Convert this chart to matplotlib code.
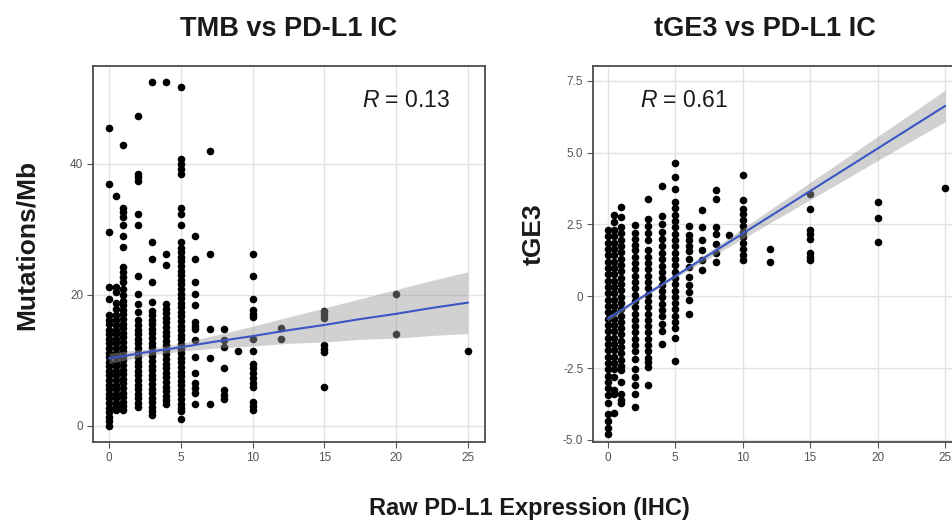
import matplotlib
matplotlib.use("Agg")
import matplotlib.pyplot as plt
import numpy as np

plt.rcParams['font.family'] = ['Liberation Sans', 'DejaVu Sans']
plt.rcParams['mathtext.fontset'] = 'custom'
plt.rcParams['mathtext.it'] = 'Liberation Sans:italic'
plt.rcParams['mathtext.rm'] = 'Liberation Sans'

# ---------------- data: TMB (Mutations/Mb) by raw PD-L1 IC level ----------------
tmb_levels = [0, 0.5, 1, 2, 3, 4, 5, 6, 7, 8, 9, 10, 12, 15, 20, 25]
tmb_x0 = [45.5, 36.9, 29.6, 21.2, 19.4, 16.9, 16.2, 15.5, 14.7, 14.0, 13.3, 12.6, 11.9, 11.2, 10.5,
          9.8, 9.1, 8.4, 7.7, 7.0, 6.3, 5.6, 4.9, 4.2, 3.5, 2.8, 2.1, 1.4, 0.8, 0.0]
tmb_x05 = [35.0, 21.2, 20.4, 18.7, 17.9, 16.9, 16.1, 15.4, 14.7, 14.0, 13.3, 12.6, 11.9, 11.2, 10.5,
           9.8, 9.1, 8.4, 7.7, 7.0, 6.3, 5.6, 4.9, 4.2, 3.5, 2.9, 2.4]
tmb_x1 = [42.8, 33.3, 32.6, 31.8, 30.6, 29.0, 27.3, 24.2, 23.5, 22.7, 21.9, 20.9, 19.9, 19.1, 18.4,
          17.7, 17.0, 16.3, 15.6, 14.9, 14.2, 13.5, 12.8, 12.1, 11.4, 10.7, 10.0, 9.3, 8.6, 7.9,
          7.2, 6.5, 5.8, 5.1, 4.4, 3.7, 3.0, 2.4]
tmb_x2 = [47.3, 38.4, 37.9, 37.4, 32.4, 30.6, 22.9, 20.2, 18.6, 17.4, 16.1, 15.4, 14.7, 14.0, 13.3,
          12.6, 11.9, 11.2, 10.5, 9.8, 9.1, 8.4, 7.7, 7.0, 6.3, 5.6, 4.9, 4.2, 3.5, 2.9]
tmb_x3 = [52.5, 28.0, 25.5, 21.9, 18.9, 17.6, 16.9, 16.2, 15.5, 14.8, 14.1, 13.4, 12.7, 12.0, 11.3,
          10.6, 9.9, 9.2, 8.5, 7.8, 7.1, 6.4, 5.7, 5.0, 4.3, 3.6, 2.9, 2.3, 1.7]
tmb_x4 = [52.5, 26.2, 24.5, 18.6, 17.9, 17.2, 16.5, 15.8, 15.1, 14.4, 13.7, 13.0, 12.3, 11.6, 10.9,
          10.2, 9.5, 8.8, 8.1, 7.4, 6.7, 6.0, 5.3, 4.6, 4.0, 3.4]
tmb_x5 = [51.7, 40.7, 39.9, 39.2, 38.4, 33.3, 32.4, 30.6, 28.0, 27.2, 26.5, 25.8, 25.1, 24.4, 23.7,
          23.0, 22.3, 21.6, 20.9, 20.2, 19.5, 18.8, 18.1, 17.4, 16.7, 16.0, 15.3, 14.6, 13.9, 13.2,
          12.5, 11.8, 11.1, 10.4, 9.7, 9.0, 8.3, 7.6, 6.9, 6.2, 5.5, 4.8, 4.1, 3.4, 2.8, 2.3, 1.1]
tmb_x6 = [29.0, 25.5, 21.9, 20.2, 18.4, 15.9, 15.3, 14.8, 13.1, 10.5, 8.0, 6.5, 5.8, 5.0, 3.4]
tmb_x7 = [42.0, 26.2, 14.8, 10.4, 3.4]
tmb_x8 = [14.8, 13.1, 12.0, 8.8, 5.5, 4.7, 4.1]
tmb_x9 = [11.4]
tmb_x10 = [26.2, 22.8, 19.3, 17.7, 17.1, 16.6, 13.2, 11.4, 9.5, 8.8, 8.0, 7.3, 6.5, 6.0, 3.6, 3.0, 2.4]
tmb_x12 = [15.0, 13.2]
tmb_x15 = [17.6, 17.0, 16.4, 12.3, 11.8, 11.3, 6.0]
tmb_x20 = [20.2, 14.0]
tmb_x25 = [11.4]
tmb_columns = [tmb_x0, tmb_x05, tmb_x1, tmb_x2, tmb_x3, tmb_x4, tmb_x5, tmb_x6, tmb_x7, tmb_x8,
               tmb_x9, tmb_x10, tmb_x12, tmb_x15, tmb_x20, tmb_x25]

# linear fit + 95% CI
fit_x = [0, 2.5, 5, 7.5, 10, 12.5, 15, 17.5, 20, 22.5, 25]
tmb_fit = [10.3, 11.2, 12.0, 12.9, 13.7, 14.6, 15.4, 16.3, 17.1, 18.0, 18.8]
tmb_lo = [9.5, 10.7, 11.4, 11.9, 12.2, 12.6, 12.8, 13.2, 13.4, 13.8, 14.1]
tmb_hi = [11.1, 11.7, 12.6, 13.9, 15.2, 16.6, 18.0, 19.4, 20.8, 22.2, 23.5]

# ---------------- data: tGE3 by raw PD-L1 IC level ----------------
tge3_x0 = [2.30, 2.08, 1.86, 1.64, 1.42, 1.20, 0.98, 0.76, 0.54, 0.32, 0.10, -0.12, -0.34, -0.56,
           -0.78, -1.00, -1.22, -1.44, -1.66, -1.88, -2.10, -2.32, -2.54, -2.76, -2.98, -3.20,
           -3.45, -3.70, -4.10, -4.35, -4.60, -4.80]
tge3_x05 = [2.84, 2.60, 2.30, 2.08, 1.86, 1.64, 1.42, 1.20, 0.98, 0.76, 0.54, 0.32, 0.10, -0.12,
            -0.34, -0.56, -0.78, -1.00, -1.22, -1.44, -1.66, -1.88, -2.10, -2.32, -2.54, -2.80,
            -3.27, -3.40, -4.07]
tge3_x1 = [3.09, 2.75, 2.41, 2.19, 1.97, 1.75, 1.53, 1.31, 1.09, 0.87, 0.65, 0.43, 0.21, -0.01,
           -0.23, -0.45, -0.67, -0.89, -1.11, -1.33, -1.55, -1.77, -1.99, -2.21, -2.43, -2.58,
           -2.98, -3.39, -3.62, -3.73]
tge3_x2 = [2.49, 2.20, 2.00, 1.80, 1.60, 1.38, 1.16, 0.94, 0.72, 0.50, 0.28, 0.06, -0.16, -0.38,
           -0.60, -0.82, -1.04, -1.26, -1.48, -1.70, -1.92, -2.20, -2.52, -2.81, -3.10, -3.39, -3.86]
tge3_x3 = [3.38, 2.70, 2.45, 2.20, 1.95, 1.60, 1.38, 1.16, 0.94, 0.72, 0.50, 0.28, 0.06, -0.16,
           -0.38, -0.60, -0.82, -1.04, -1.26, -1.48, -1.70, -1.92, -2.14, -2.30, -2.45, -3.10]
tge3_x4 = [3.83, 2.79, 2.50, 2.25, 2.00, 1.75, 1.50, 1.28, 1.06, 0.84, 0.62, 0.40, 0.18, -0.04,
           -0.26, -0.48, -0.70, -0.95, -1.20, -1.65]
tge3_x5 = [4.62, 4.16, 3.72, 3.28, 3.06, 2.84, 2.62, 2.40, 2.18, 1.96, 1.74, 1.52, 1.30, 1.08,
           0.86, 0.64, 0.42, 0.20, -0.02, -0.24, -0.46, -0.68, -0.90, -1.12, -1.45, -2.25]
tge3_x6 = [2.44, 2.13, 1.95, 1.74, 1.57, 1.31, 1.02, 0.67, 0.38, 0.15, -0.14, -0.60]
tge3_x7 = [2.99, 2.41, 1.95, 1.60, 1.25, 0.90]
tge3_x8 = [3.69, 3.40, 2.41, 2.18, 1.83, 1.49, 1.19]
tge3_x9 = [2.13]
tge3_x10 = [4.21, 3.36, 3.05, 2.85, 2.65, 2.45, 2.25, 2.05, 1.85, 1.65, 1.45, 1.25]
tge3_x12 = [1.66, 1.19]
tge3_x15 = [3.55, 3.05, 2.30, 2.15, 2.00, 1.49, 1.37, 1.25]
tge3_x20 = [3.27, 2.72, 1.90]
tge3_x25 = [3.76]
tge3_columns = [tge3_x0, tge3_x05, tge3_x1, tge3_x2, tge3_x3, tge3_x4, tge3_x5, tge3_x6, tge3_x7,
                tge3_x8, tge3_x9, tge3_x10, tge3_x12, tge3_x15, tge3_x20, tge3_x25]

tge3_fit = [-0.78, -0.04, 0.70, 1.44, 2.18, 2.92, 3.66, 4.40, 5.14, 5.88, 6.62]
tge3_lo = [-0.87, -0.09, 0.64, 1.32, 2.00, 2.68, 3.36, 4.04, 4.72, 5.40, 6.07]
tge3_hi = [-0.69, 0.01, 0.76, 1.56, 2.36, 3.16, 3.96, 4.76, 5.56, 6.36, 7.17]

x_ticks = [0, 5, 10, 15, 20, 25]
tmb_yticks = [0, 20, 40]
tge3_yticks = [-5.0, -2.5, 0, 2.5, 5.0, 7.5]
tge3_yticklabels = ['-5.0', '-2.5', '0', '2.5', '5.0', '7.5']


def flatten(levels, columns):
    xs, ys = [], []
    for lv, col in zip(levels, columns):
        xs.extend([lv] * len(col))
        ys.extend(col)
    return np.array(xs), np.array(ys)


W, H = 952, 520
fig = plt.figure(figsize=(W / 100, H / 100), dpi=100)
ax1 = fig.add_axes([93 / W, 78 / H, 392 / W, 376 / H])
ax2 = fig.add_axes([593 / W, 78 / H, 369 / W, 376 / H])


def style(ax):
    ax.set_facecolor('white')
    ax.grid(True, color='#e3e3e3', lw=1.0, zorder=0)
    ax.set_axisbelow(True)
    for s in ax.spines.values():
        s.set_color('#4d4d4d')
        s.set_linewidth(1.3)
    ax.tick_params(direction='out', length=4.5, width=0.8, color='#555555',
                   labelcolor='#555555', labelsize=8.5, pad=2.5)
    ax.set_xticks(x_ticks)
    ax.set_xticklabels([str(t) for t in x_ticks])


# left panel
x, y = flatten(tmb_levels, tmb_columns)
ax1.scatter(x, y, s=30, c='black', linewidths=0, zorder=3)
ax1.fill_between(fit_x, tmb_lo, tmb_hi, color='#999999', alpha=0.45, lw=0, zorder=4)
ax1.plot(fit_x, tmb_fit, color='#3a56c4', lw=1.5, zorder=5)
style(ax1)
ax1.set_xlim(-1.12, 26.2)
ax1.set_ylim(-2.45, 54.9)
ax1.set_yticks(tmb_yticks)
ax1.set_yticklabels([str(t) for t in tmb_yticks])
ax1.text(0.686, 0.89, r'$R$ = 0.13', transform=ax1.transAxes, fontsize=16.5,
         color='#1a1a1a', ha='left', va='baseline')

# right panel
x, y = flatten(tmb_levels, tge3_columns)
ax2.scatter(x, y, s=30, c='black', linewidths=0, zorder=3)
ax2.fill_between(fit_x, tge3_lo, tge3_hi, color='#999999', alpha=0.45, lw=0, zorder=4)
ax2.plot(fit_x, tge3_fit, color='#3a56c4', lw=1.5, zorder=5)
style(ax2)
ax2.set_xlim(-1.09, 26.25)
ax2.set_ylim(-5.07, 8.01)
ax2.set_yticks(tge3_yticks)
ax2.set_yticklabels(tge3_yticklabels)
ax2.text(0.127, 0.892, r'$R$ = 0.61', transform=ax2.transAxes, fontsize=16.5,
         color='#1a1a1a', ha='left', va='baseline')

# titles and labels
fig.text(288.5 / W, 1 - 36 / H, 'TMB vs PD-L1 IC', ha='center', va='baseline',
         fontsize=19.5, fontweight='bold', color='#1a1a1a')
fig.text(765 / W, 1 - 36 / H, 'tGE3 vs PD-L1 IC', ha='center', va='baseline',
         fontsize=19.5, fontweight='bold', color='#1a1a1a')
fig.text(27 / W, 1 - 245 / H, 'Mutations/Mb', rotation=90, ha='center', va='center',
         fontsize=19, fontweight='bold', color='#1a1a1a')
fig.text(534 / W, 1 - 234 / H, 'tGE3', rotation=90, ha='center', va='center',
         fontsize=19, fontweight='bold', color='#1a1a1a')
fig.text(529 / W, 1 - 514.5 / H, 'Raw PD-L1 Expression (IHC)', ha='center', va='baseline',
         fontsize=17, fontweight='bold', color='#1a1a1a')

fig.savefig('out.png', dpi=100)
